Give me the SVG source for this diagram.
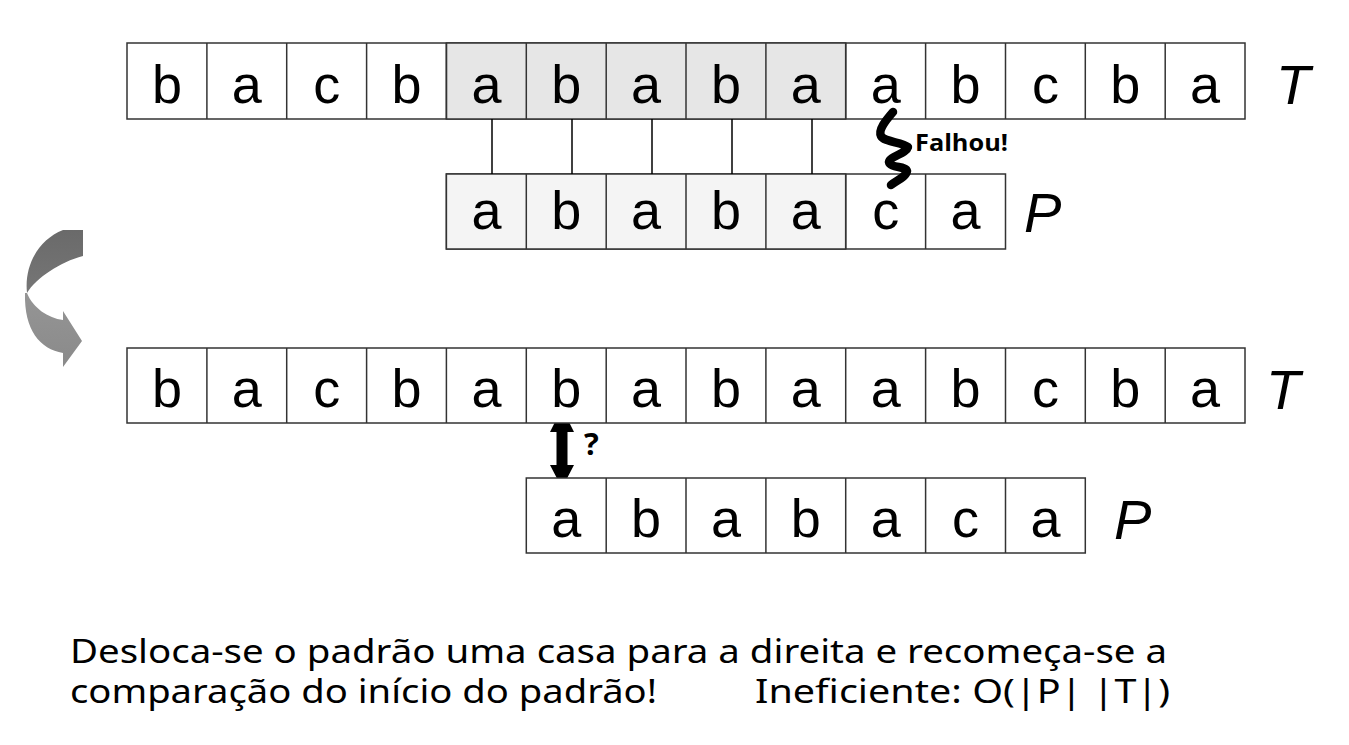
<svg xmlns="http://www.w3.org/2000/svg" width="1349" height="745" viewBox="0 0 1349 745">
<style>
.c{fill:#fff;stroke:#333;stroke-width:1.5}
.s{fill:#e6e6e6}
.p{fill:#f4f4f4}
.l{font-family:"Liberation Sans",Arial,sans-serif;font-size:54px;text-anchor:middle;fill:#000}
.lab{font-family:"Liberation Sans",Arial,sans-serif;font-size:56px;font-style:italic;fill:#000}
.small{font-family:"Open Sans","Noto Sans",sans-serif;font-weight:bold;fill:#000}
.body{font-family:"Noto Sans","DejaVu Sans",sans-serif;font-size:33px;fill:#000}
.conn{stroke:#000;stroke-width:1.5;fill:none}
.grid{stroke:#333;stroke-width:1.5;fill:none}
</style>
<defs>
<linearGradient id="g1" x1="0" y1="0" x2="0" y2="1">
<stop offset="0" stop-color="#6a6a6a"/>
<stop offset="1" stop-color="#767676"/>
</linearGradient>
<linearGradient id="g2" x1="0" y1="0" x2="0" y2="1">
<stop offset="0" stop-color="#959595"/>
<stop offset="1" stop-color="#8a8a8a"/>
</linearGradient>
</defs>

<g id="T1">
<rect class="c" x="127" y="43" width="1118" height="76"/>
<rect class="c s" x="446.4" y="43" width="399.3" height="76"/>
<g class="grid">
<line x1="206.9" y1="43" x2="206.9" y2="119"/><line x1="286.7" y1="43" x2="286.7" y2="119"/><line x1="366.6" y1="43" x2="366.6" y2="119"/><line x1="446.4" y1="43" x2="446.4" y2="119"/><line x1="526.3" y1="43" x2="526.3" y2="119"/><line x1="606.2" y1="43" x2="606.2" y2="119"/><line x1="686" y1="43" x2="686" y2="119"/><line x1="765.9" y1="43" x2="765.9" y2="119"/><line x1="845.7" y1="43" x2="845.7" y2="119"/><line x1="925.6" y1="43" x2="925.6" y2="119"/><line x1="1005.5" y1="43" x2="1005.5" y2="119"/><line x1="1085.3" y1="43" x2="1085.3" y2="119"/><line x1="1165.2" y1="43" x2="1165.2" y2="119"/>
</g>
<text class="l" y="103"><tspan x="167">b</tspan><tspan x="246.8">a</tspan><tspan x="326.7">c</tspan><tspan x="406.5">b</tspan><tspan x="486.4">a</tspan><tspan x="566.2">b</tspan><tspan x="646.1">a</tspan><tspan x="726">b</tspan><tspan x="805.8">a</tspan><tspan x="885.7">a</tspan><tspan x="965.5">b</tspan><tspan x="1045.4">c</tspan><tspan x="1125.3">b</tspan><tspan x="1205.1">a</tspan></text>
<text class="lab" x="1276" y="104">T</text>
</g>

<g id="P1">
<rect class="c" x="446.4" y="174" width="559.1" height="75"/>
<rect class="c p" x="446.4" y="174" width="399.3" height="75"/>
<g class="grid">
<line x1="526.3" y1="174" x2="526.3" y2="249"/><line x1="606.2" y1="174" x2="606.2" y2="249"/><line x1="686" y1="174" x2="686" y2="249"/><line x1="765.9" y1="174" x2="765.9" y2="249"/><line x1="845.7" y1="174" x2="845.7" y2="249"/><line x1="925.6" y1="174" x2="925.6" y2="249"/>
</g>
<text class="l" y="229"><tspan x="486.4">a</tspan><tspan x="566.2">b</tspan><tspan x="646.1">a</tspan><tspan x="726">b</tspan><tspan x="805.8">a</tspan><tspan x="885.7">c</tspan><tspan x="965.5">a</tspan></text>
<text class="lab" x="1024" y="232">P</text>
</g>

<g id="connectors">
<line class="conn" x1="492" y1="119" x2="492" y2="174"/>
<line class="conn" x1="572" y1="119" x2="572" y2="174"/>
<line class="conn" x1="652" y1="119" x2="652" y2="174"/>
<line class="conn" x1="732" y1="119" x2="732" y2="174"/>
<line class="conn" x1="812" y1="119" x2="812" y2="174"/>
<path d="M893,112 C886,120 878,130 881,136 C884,142 902,142 908,147 C906,154 890,156 889,162 C890,168 906,166 907,171 C906,177 896,181 891,185" fill="none" stroke="#000" stroke-width="8.5" stroke-linecap="round" stroke-linejoin="round"/>
<path d="M562,408 L574,432 L567.5,432 L567.5,465 L574,465 L562,488 L550,465 L556.5,465 L556.5,432 L550,432 Z" fill="#000"/>
</g>

<g id="falhou"><text class="small" x="915" y="151" font-size="24" textLength="93" lengthAdjust="spacingAndGlyphs">Falhou!</text></g>
<g id="q"><text class="small" x="584" y="455" font-size="31">?</text></g>

<g id="curveArrow">
<path d="M63,230 L83,230 L83,256 C60,262 36,278 27,293 C24,266 38,240 63,230 Z" fill="url(#g1)"/>
<path d="M27,293 C33,308 48,318 63,320 L63,311 L82,341 L63,367 L63,353 C40,349 24,330 25,293 Z" fill="url(#g2)"/>
</g>

<g id="T2">
<rect class="c" x="127" y="348" width="1118" height="75"/>
<g class="grid">
<line x1="206.9" y1="348" x2="206.9" y2="423"/><line x1="286.7" y1="348" x2="286.7" y2="423"/><line x1="366.6" y1="348" x2="366.6" y2="423"/><line x1="446.4" y1="348" x2="446.4" y2="423"/><line x1="526.3" y1="348" x2="526.3" y2="423"/><line x1="606.2" y1="348" x2="606.2" y2="423"/><line x1="686" y1="348" x2="686" y2="423"/><line x1="765.9" y1="348" x2="765.9" y2="423"/><line x1="845.7" y1="348" x2="845.7" y2="423"/><line x1="925.6" y1="348" x2="925.6" y2="423"/><line x1="1005.5" y1="348" x2="1005.5" y2="423"/><line x1="1085.3" y1="348" x2="1085.3" y2="423"/><line x1="1165.2" y1="348" x2="1165.2" y2="423"/>
</g>
<text class="l" y="407"><tspan x="167">b</tspan><tspan x="246.8">a</tspan><tspan x="326.7">c</tspan><tspan x="406.5">b</tspan><tspan x="486.4">a</tspan><tspan x="566.2">b</tspan><tspan x="646.1">a</tspan><tspan x="726">b</tspan><tspan x="805.8">a</tspan><tspan x="885.7">a</tspan><tspan x="965.5">b</tspan><tspan x="1045.4">c</tspan><tspan x="1125.3">b</tspan><tspan x="1205.1">a</tspan></text>
<text class="lab" x="1266" y="409">T</text>
</g>

<g id="P2">
<rect class="c" x="526.3" y="478" width="559" height="75"/>
<g class="grid">
<line x1="606.2" y1="478" x2="606.2" y2="553"/><line x1="686" y1="478" x2="686" y2="553"/><line x1="765.9" y1="478" x2="765.9" y2="553"/><line x1="845.7" y1="478" x2="845.7" y2="553"/><line x1="925.6" y1="478" x2="925.6" y2="553"/><line x1="1005.5" y1="478" x2="1005.5" y2="553"/>
</g>
<text class="l" y="537"><tspan x="566.2">a</tspan><tspan x="646.1">b</tspan><tspan x="726">a</tspan><tspan x="805.8">b</tspan><tspan x="885.7">a</tspan><tspan x="965.5">c</tspan><tspan x="1045.4">a</tspan></text>
<text class="lab" x="1114" y="539">P</text>
</g>

<g id="caption">
<text class="body" x="70" y="663" textLength="1097" lengthAdjust="spacingAndGlyphs">Desloca-se o padrão uma casa para a direita e recomeça-se a</text>
<text class="body" x="70" y="703" textLength="587" lengthAdjust="spacingAndGlyphs">comparação do início do padrão!</text>
<text class="body" x="755" y="703" textLength="415" lengthAdjust="spacingAndGlyphs">Ineficiente: O(|P| |T|)</text>
</g>
</svg>
